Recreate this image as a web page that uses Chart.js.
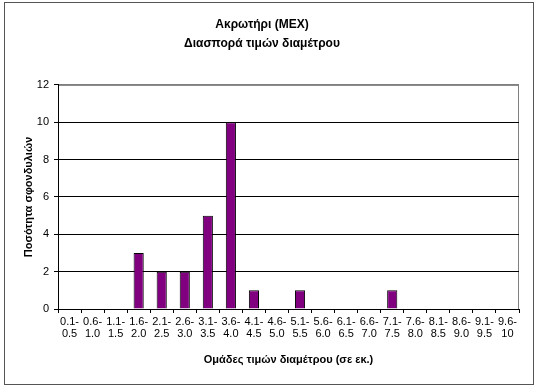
<!DOCTYPE html>
<html>
<head>
<meta charset="utf-8">
<script src="https://cdn.jsdelivr.net/npm/chart.js@4.4.1/dist/chart.umd.min.js"></script>
<style>
  html, body { margin: 0; padding: 0; background: #fff; }
  #wrap { width: 538px; height: 387px; }
</style>
</head>
<body>
<div id="wrap"><canvas id="chart" width="538" height="387"></canvas></div>
<script>
// diameter groups (cm) and how many vertebrae fall in each
const groups = [
  ["0.1-", "0.5"], ["0.6-", "1.0"], ["1.1-", "1.5"], ["1.6-", "2.0"], ["2.1-", "2.5"],
  ["2.6-", "3.0"], ["3.1-", "3.5"], ["3.6-", "4.0"], ["4.1-", "4.5"], ["4.6-", "5.0"],
  ["5.1-", "5.5"], ["5.6-", "6.0"], ["6.1-", "6.5"], ["6.6-", "7.0"], ["7.1-", "7.5"],
  ["7.6-", "8.0"], ["8.1-", "8.5"], ["8.6-", "9.0"], ["9.1-", "9.5"], ["9.6-", "10"]
];
const counts = [0, 0, 0, 3, 2, 2, 5, 10, 1, 0, 1, 0, 0, 0, 1, 0, 0, 0, 0, 0];
const titleLines = ["Ακρωτήρι (ΜΕΧ)", "Διασπορά τιμών διαμέτρου"];
const xTitle = "Ομάδες τιμών διαμέτρου (σε εκ.)";
const yTitle = "Ποσότητα σφονδυλιών";

const FONT = "'Liberation Sans', Arial, sans-serif";

// outer frame + gray plot border
const frame = {
  id: 'frame',
  beforeDraw(chart) {
    const c = chart.ctx;
    const a = chart.chartArea;
    c.save();
    c.fillStyle = '#fff';
    c.fillRect(0, 0, chart.width, chart.height);
    c.strokeStyle = '#555';
    c.lineWidth = 1;
    c.strokeRect(4.5, 2.5, chart.width - 9, chart.height - 5);
    c.strokeStyle = '#808080';
    c.strokeRect(a.left + 0.5, a.top + 0.5, a.right - a.left - 1, a.bottom - a.top);
    c.restore();
  }
};

const ctx = document.getElementById('chart').getContext('2d');
new Chart(ctx, {
  type: 'bar',
  data: {
    labels: groups,
    datasets: [{
      label: "count",
      data: counts,
      backgroundColor: "#800080",
      borderColor: "#000",
      borderWidth: 1,
      barPercentage: 0.44,
      categoryPercentage: 1.0,
    }]
  },
  options: {
    responsive: false,
    animation: false,
    layout: { padding: { left: 5, right: 19, top: 0, bottom: 3 } },
    plugins: {
      legend: { display: false },
      tooltip: { enabled: false },
      title: {
        display: true,
        text: titleLines,
        color: '#000',
        font: { family: FONT, size: 12, weight: 'bold', lineHeight: 1.58 },
        padding: { top: 15, bottom: 32 }
      }
    },
    scales: {
      x: {
        grid: { drawOnChartArea: false, drawTicks: true, tickLength: 4, color: '#000', offset: true },
        border: { color: '#000' },
        ticks: {
          color: '#000', maxRotation: 0, autoSkip: false, padding: 3,
          font: { family: FONT, size: 11, lineHeight: 1.1 }
        },
        title: {
          display: true, text: xTitle, color: '#000',
          font: { family: FONT, size: 11, weight: 'bold' },
          padding: { top: 10, bottom: 17 }
        },
        afterFit(s) { s.height = 75; }
      },
      y: {
        min: 0, max: 12,
        grid: {
          color: (c) => c.tick && c.tick.value === 12 ? '#808080' : '#000',
          tickColor: '#000', tickLength: 4
        },
        border: { color: '#000' },
        ticks: {
          stepSize: 2, color: '#000', padding: 5,
          font: { family: FONT, size: 11 }
        },
        title: {
          display: true, text: yTitle, color: '#000',
          font: { family: FONT, size: 11, weight: 'bold' },
          padding: { top: 17, bottom: 0 }
        },
        afterFit(s) { s.width = 53; }
      }
    }
  },
  plugins: [frame]
});
</script>
</body>
</html>
